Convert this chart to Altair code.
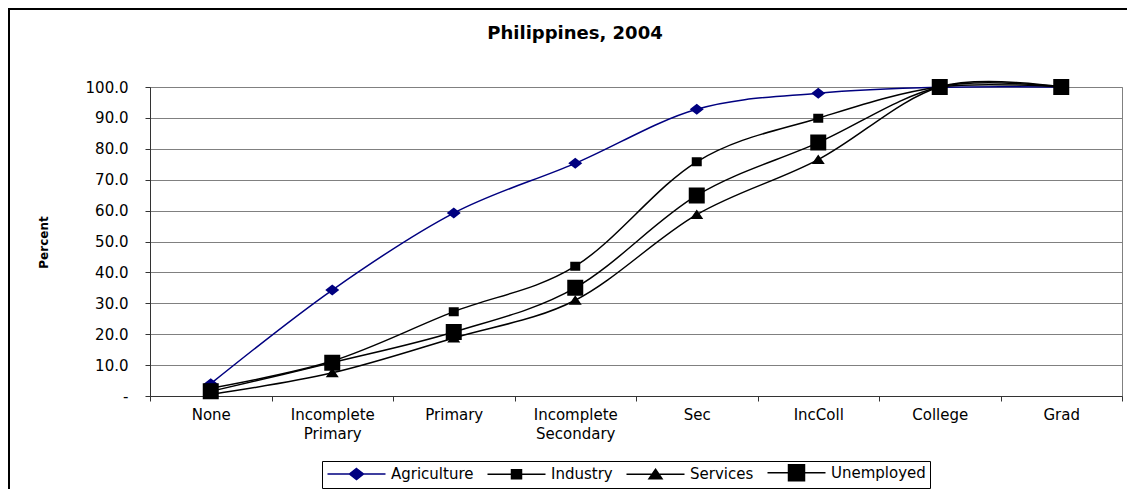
import altair as alt
import pandas as pd

categories = ["None", "Incomplete\nPrimary", "Primary", "Incomplete\nSecondary",
              "Sec", "IncColl", "College", "Grad"]
series_names = ["Agriculture", "Industry", "Services", "Unemployed"]
agriculture = [4.0, 34.3, 59.2, 75.3, 92.8, 98.0, 99.9, 100.0]
industry = [2.5, 11.3, 27.3, 42.0, 75.8, 89.9, 100.0, 100.0]
services = [0.5, 7.5, 18.8, 31.0, 58.7, 76.5, 100.0, 100.0]
unemployed = [1.5, 10.8, 20.7, 35.0, 64.9, 82.0, 100.0, 100.0]
y_ticks = [0, 10, 20, 30, 40, 50, 60, 70, 80, 90, 100]

series_values = [agriculture, industry, services, unemployed]
rows = []
for name, vals in zip(series_names, series_values):
    for cat, v in zip(categories, vals):
        rows.append({"level": cat, "series": name, "value": v})
df = pd.DataFrame(rows)

colors = ["#000080", "#000000", "#000000", "#000000"]
# custom symbols: a horizontal line segment (only visible when stroked, i.e. in legend) + marker
shapes = [
    "M-5.8,0H5.8M0,-1.1L1.4,0L0,1.1L-1.4,0Z",
    "M-5.8,0H5.8M-1,-0.9H1V0.9H-1Z",
    "M-5.8,0H5.8M0,-1L1.3,0.9H-1.3Z",
    "M-5.8,0H5.8M-1.6,-1.6H1.6V1.6H-1.6Z",
]

FONT = "DejaVu Sans"

x_axis = alt.Axis(title=None, tickBand="extent", labelAngle=0,
                  labelExpr="split(datum.label, '\\n')",
                  labelFont=FONT, labelFontSize=15, labelColor="black",
                  labelLineHeight=19, labelPadding=6, tickSize=5,
                  tickColor="#333333", domainColor="#333333", grid=False)
y_axis = alt.Axis(title="Percent", values=y_ticks,
                  labelExpr="datum.value == 0 ? '-\u00a0\u00a0\u00a0\u00a0\u00a0' : format(datum.value, '.1f')",
                  labelFont=FONT, labelFontSize=15, labelColor="black", labelOverlap=False,
                  labelPadding=17, tickSize=5, tickColor="#333333",
                  domainColor="#333333", gridColor="#808080", gridWidth=1,
                  titleFont=FONT, titleFontSize=12, titleFontWeight="bold",
                  titleColor="black", titleX=-107, titleY=155,
                  titleAlign="center", titleBaseline="middle", titleAngle=270)

x_enc = alt.X("level:N", sort=categories,
              scale=alt.Scale(type="band", paddingInner=0, paddingOuter=0), axis=x_axis)
y_enc = alt.Y("value:Q", scale=alt.Scale(domain=[0, 100], nice=False), axis=y_axis)

legend = alt.Legend(title=None, orient="none", direction="horizontal",
                    legendX=172, legendY=374,
                    labelFont=FONT, labelFontSize=15, labelColor="black",
                    symbolOffset=23, labelOffset=27, columnPadding=10,
                    padding=4, strokeColor="black",
                    symbolStrokeWidth=1.5, symbolSize=100)

color_enc = alt.Color("series:N", scale=alt.Scale(domain=series_names, range=colors),
                      legend=legend)
shape_enc = alt.Shape("series:N", scale=alt.Scale(domain=series_names, range=shapes),
                      legend=legend)

lines = alt.Chart(df).mark_line(interpolate="cardinal", strokeWidth=1.5).encode(
    x=x_enc, y=y_enc, color=color_enc, detail="series:N")

points = alt.Chart(df).mark_point(filled=True, size=100, opacity=1, strokeWidth=0).encode(
    x=x_enc, y=y_enc, color=color_enc, shape=shape_enc)

border_df = pd.DataFrame({"a": [0]})
border = alt.Chart(border_df).mark_rect(fill=None, stroke="black", strokeWidth=2).encode(
    x=alt.value(-141), x2=alt.value(1000), y=alt.value(-78), y2=alt.value(430))

chart = alt.layer(border, lines, points).properties(
    width=972, height=309,
    title=alt.TitleParams("Philippines, 2004", font=FONT, fontSize=18, fontWeight="bold",
                          color="black", frame="group", anchor="middle", dx=-61,
                          offset=0, dy=35),
    autosize=alt.AutoSizeParams(type="none"),
    padding={"left": 142, "top": 79, "right": 5, "bottom": 93},
).configure_view(stroke="#808080").configure_legend(
    symbolStrokeColor="black", strokeWidth=1
)

chart.save("out.html", embed_options={"renderer": "svg", "actions": False})
